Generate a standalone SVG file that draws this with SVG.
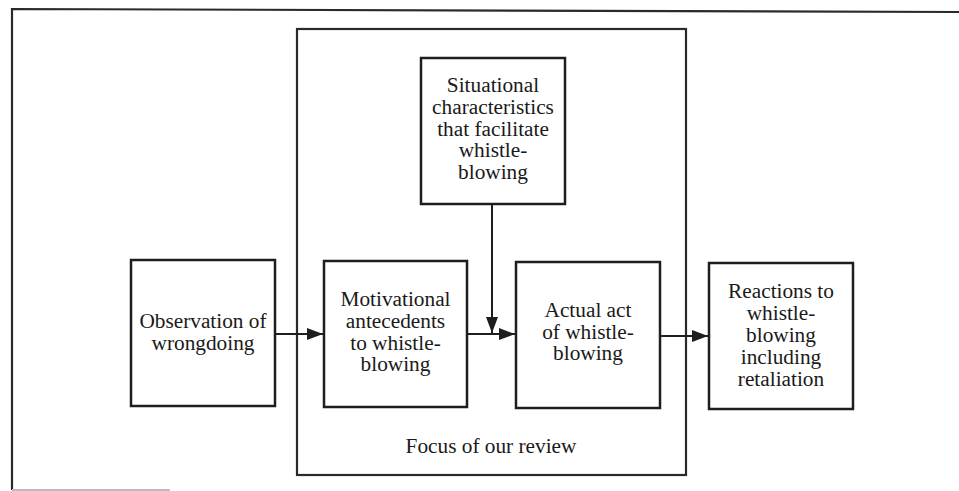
<svg xmlns="http://www.w3.org/2000/svg" width="959" height="491" viewBox="0 0 959 491">
  <style>
    .box { fill: #fff; stroke: #1e1e1e; stroke-width: 2.5; }
    .frame { fill: none; stroke: #2a2a2a; stroke-width: 2.2; }
    .lbl { font-family: "Liberation Serif", "Times New Roman", serif; font-size: 21.3px; fill: #1a1a1a; text-anchor: middle; }
    .conn { stroke: #1e1e1e; stroke-width: 2; fill: none; }
  </style>
  <defs>
    <marker id="arr" viewBox="0 0 16 12" refX="16" refY="6" markerWidth="16" markerHeight="12" markerUnits="userSpaceOnUse" orient="auto">
      <path d="M0,0 L16,6 L0,12 Z" fill="#1e1e1e"/>
    </marker>
  </defs>
  <rect width="959" height="491" fill="#fff"/>

  <g id="outer-frame">
    <path class="frame" d="M959,12 L12,9 L12,490"/>
    <path d="M12,490 L170,490" stroke="#bbb" stroke-width="2" fill="none"/>
  </g>

  <g id="focus">
    <rect class="frame" x="297" y="29" width="389" height="446" stroke-width="2.5"/>
    <text class="lbl" x="491" y="453">Focus of our review</text>
  </g>

  <g id="situational">
    <rect class="box" x="421" y="58" width="144" height="146"/>
    <text class="lbl" x="493" y="92">Situational</text>
    <text class="lbl" x="493" y="114">characteristics</text>
    <text class="lbl" x="493" y="136">that facilitate</text>
    <text class="lbl" x="493" y="157">whistle-</text>
    <text class="lbl" x="493" y="179">blowing</text>
  </g>

  <g id="observation">
    <rect class="box" x="131" y="260" width="144" height="146"/>
    <text class="lbl" x="203" y="328">Observation of</text>
    <text class="lbl" x="203" y="350">wrongdoing</text>
  </g>

  <g id="motivational">
    <rect class="box" x="324" y="261" width="143" height="146"/>
    <text class="lbl" x="395.5" y="306">Motivational</text>
    <text class="lbl" x="395.5" y="328">antecedents</text>
    <text class="lbl" x="395.5" y="350">to whistle-</text>
    <text class="lbl" x="395.5" y="371">blowing</text>
  </g>

  <g id="actual">
    <rect class="box" x="516" y="262" width="144" height="146"/>
    <text class="lbl" x="588" y="317">Actual act</text>
    <text class="lbl" x="588" y="339">of whistle-</text>
    <text class="lbl" x="588" y="360">blowing</text>
  </g>

  <g id="reactions">
    <rect class="box" x="709" y="263" width="144" height="146"/>
    <text class="lbl" x="781" y="298">Reactions to</text>
    <text class="lbl" x="781" y="320">whistle-</text>
    <text class="lbl" x="781" y="342">blowing</text>
    <text class="lbl" x="781" y="364">including</text>
    <text class="lbl" x="781" y="386">retaliation</text>
  </g>

  <g id="connectors">
    <line class="conn" x1="275" y1="334" x2="323" y2="334" marker-end="url(#arr)"/>
    <line class="conn" x1="467" y1="334" x2="515" y2="334" marker-end="url(#arr)"/>
    <line class="conn" x1="492" y1="204" x2="492" y2="333" marker-end="url(#arr)"/>
    <line class="conn" x1="660" y1="336" x2="708" y2="336" marker-end="url(#arr)"/>
  </g>
</svg>
